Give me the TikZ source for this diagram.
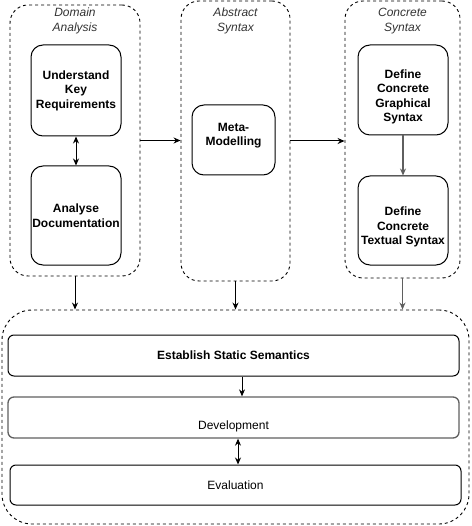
\documentclass[tikz,border=0pt]{standalone}
\usepackage{fontspec}
\setmainfont{Liberation Sans}
\usetikzlibrary{arrows.meta,calc}
\definecolor{ttl}{RGB}{51,51,51}
\definecolor{gline}{RGB}{95,95,95}
\tikzset{
  cont/.style={draw, line width=0.9pt, dash pattern=on 3pt off 3pt, rounded corners=18pt, inner sep=0pt},
  box/.style={draw, line width=1pt, rounded corners=12pt, inner sep=0pt, align=center,
    font=\fontsize{12}{14.5}\selectfont\bfseries},
  wide/.style={draw, line width=1pt, rounded corners=6pt, inner sep=0pt, align=center,
    minimum width=451pt, font=\fontsize{12}{14.5}\selectfont},
  ttlstyle/.style={font=\fontsize{12}{15}\selectfont\itshape, text=ttl, align=center, inner sep=0pt, anchor=north},
  arr/.style={-{Stealth[length=7pt,width=6pt]}, line width=1pt},
  dbl/.style={{Stealth[length=7pt,width=6pt]}-{Stealth[length=7pt,width=6pt]}, line width=1pt}
}
\begin{document}
\begin{tikzpicture}[x=1pt,y=-1pt]
\useasboundingbox (0,0) rectangle (471,526);
% containers
\node[cont, minimum width=130pt, minimum height=271pt,
  label={[ttlstyle, yshift=-3.5pt]north:Domain\\Analysis}] (dom) at (75,140.5) {};
\node[cont, minimum width=109pt, minimum height=280pt,
  label={[ttlstyle, yshift=-7.5pt]north:Abstract\\Syntax}] (abs) at (235.5,141) {};
\node[cont, minimum width=115pt, minimum height=277pt,
  label={[ttlstyle, yshift=-7.5pt]north:Concrete\\Syntax}] (con) at (402.5,139.5) {};
\node[cont, rounded corners=30pt, minimum width=467pt, minimum height=214pt] (bot) at (235.5,417) {};
% inner boxes
\node[box, minimum width=90pt, minimum height=91pt] (ukr) at (76,90.5) {Understand\\Key\\Requirements};
\node[box, minimum width=90pt, minimum height=99pt] (ad) at (76,215.5) {Analyse\\Documentation};
\node[box, minimum width=83pt, minimum height=70pt,
  label={[box, draw=none, yshift=4.5pt]center:Meta-\\Modelling}] (mm) at (233.5,140) {};
\node[box, minimum width=90pt, minimum height=90pt,
  label={[box, draw=none, yshift=-7pt]center:Define\\Concrete\\Graphical\\Syntax}] (dcgs) at (403,90) {};
\node[box, minimum width=90pt, minimum height=89pt,
  label={[box, draw=none, yshift=-6.5pt]center:Define\\Concrete\\Textual Syntax}] (dcts) at (403,220.5) {};
% bottom boxes
\node[wide, minimum height=41pt, font=\fontsize{12}{14.5}\selectfont\bfseries] (ess) at (233.5,355.5) {Establish Static Semantics};
\node[wide, draw=gline, line width=1.3pt, minimum height=41pt,
  label={[wide, draw=none, minimum width=0pt, yshift=-8.5pt]center:Development}] (dev) at (233.5,417.5) {};
\node[wide, minimum height=40pt] (eva) at (235.5,485) {Evaluation};
% connectors
\draw[arr] (dom.east) -- (dom.east -| abs.west);
\draw[arr] (abs.east) -- (abs.east -| con.west);
\draw[dbl] (ukr.south) -- (ad.north);
\draw[arr, draw=gline, line width=1.3pt] (dcgs.south) -- (dcts.north);
\draw[arr] (dom.south) -- (dom.south |- bot.north);
\draw[arr] (abs.south) -- (abs.south |- bot.north);
\draw[arr, draw=gline, line width=1.3pt] (con.south) -- (con.south |- bot.north);
\coordinate (c1) at (242,0);
\coordinate (c2) at (238,0);
\draw[arr] (c1 |- ess.south) -- (c1 |- dev.north);
\draw[dbl] (c2 |- dev.south) -- (c2 |- eva.north);
\end{tikzpicture}
\end{document}
